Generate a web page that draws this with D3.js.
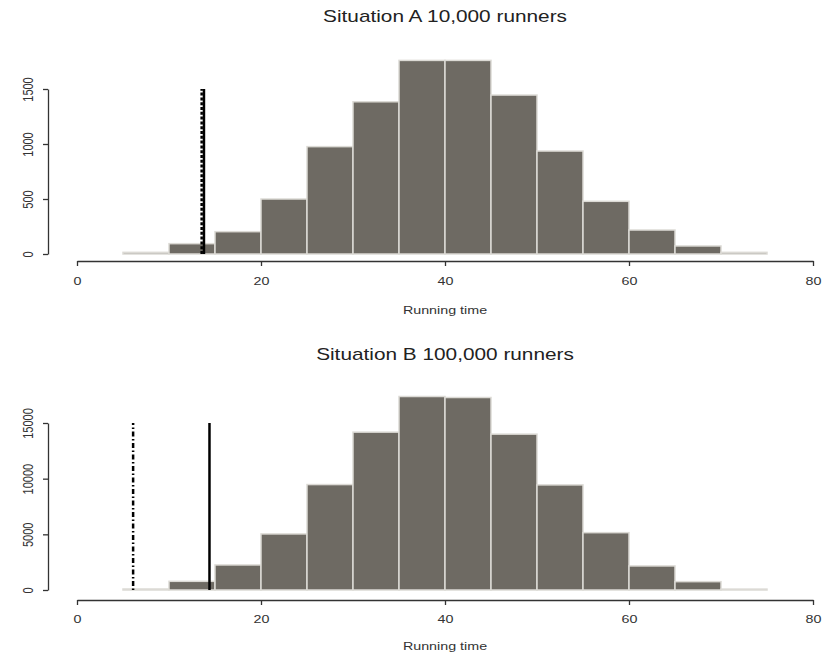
<!DOCTYPE html>
<html><head><meta charset="utf-8">
<script src="https://cdn.jsdelivr.net/npm/d3@7"></script>
<style>
body{margin:0;background:#fff;}
svg{display:block;}
.tick text{font-family:"Liberation Sans",Arial,sans-serif;font-size:11px;fill:#333;}
</style></head>
<body>
<svg id="chart" width="823" height="658"></svg>
<script>
// Histogram bins (running time), width 5
const binStarts = [5,10,15,20,25,30,35,40,45,50,55,60,65,70];
const binWidth = 5;
const countsA = [15,94,203,500,976,1384,1760,1760,1445,936,479,218,73,15];
const countsB = [90,780,2250,5036,9470,14180,17380,17290,14000,9440,5150,2160,750,80];
const xTicks = [0,20,40,60,80];
const yTicksA = [0,500,1000,1500];
const yTicksB = [0,5000,10000,15000];
const titles = ["Situation A 10,000 runners","Situation B 100,000 runners"];
const xLabel = "Running time";
// vertical reference lines
const linesA = [{x:13.55, style:"dashed"},{x:13.8, style:"solid"}];
const linesB = [{x:6.1, style:"dotdash"},{x:14.4, style:"solid"}];
const lineTopA = 1500, lineTopB = 15000;

const SX = 1.3; // horizontal stretch of text seen in the reference
const svg = d3.select("#chart");
const x = d3.scaleLinear().domain([0,80]).range([77,813]);

function panel(cfg){
  const y = d3.scaleLinear().domain([0,cfg.yMax]).range([cfg.y0,cfg.yTop]);
  const g = svg.append("g");
  // title
  g.append("text").attr("transform",`translate(445,${cfg.titleY}) scale(${SX},1)`)
    .attr("text-anchor","middle")
    .style("font-family","'Liberation Sans',Arial,sans-serif")
    .style("font-size","16px").style("fill","#222").text(cfg.title);
  // bars
  g.selectAll("rect.bar").data(binStarts.map((s,i)=>({s,v:cfg.counts[i]})))
    .join("rect").attr("class","bar")
    .attr("x",d=>x(d.s)).attr("width",d=>x(d.s+binWidth)-x(d.s))
    .attr("y",d=>y(d.v)).attr("height",d=>y(0)-y(d.v))
    .attr("fill","#6e6a63").attr("stroke","#dcdad5").attr("stroke-width",1.5);
  // vertical lines
  const dash = {solid:null, dashed:"3,1.8", dotdash:"1.5,2.5,5,2.5"};
  g.selectAll("line.ref").data(cfg.lines).join("line").attr("class","ref")
    .attr("x1",d=>x(d.x)).attr("x2",d=>x(d.x))
    .attr("y1",y(0)).attr("y2",y(cfg.lineTop))
    .attr("stroke","#000").attr("stroke-width",2.5)
    .attr("stroke-dasharray",d=>dash[d.style]);
  // x axis
  const xa = g.append("g").attr("transform",`translate(0,${cfg.xAxisY})`)
    .call(d3.axisBottom(x).tickValues(xTicks).tickSize(5).tickSizeOuter(0).tickFormat(d3.format("d")));
  xa.select(".domain").attr("stroke","#333").attr("stroke-width",1.3);
  xa.selectAll(".tick line").attr("stroke","#333").attr("stroke-width",1.3);
  xa.selectAll(".tick text").attr("y",null).attr("dy","0.35em")
    .attr("transform",`translate(0,${cfg.xLabOff}) scale(${SX},1)`);
  g.append("text").attr("transform",`translate(445,${cfg.xTitleY}) scale(${SX},1)`).attr("dy","0.35em")
    .attr("text-anchor","middle")
    .style("font-family","'Liberation Sans',Arial,sans-serif")
    .style("font-size","11px").style("fill","#333").text(xLabel);
  // y axis
  const ya = g.append("g").attr("transform","translate(48,0)")
    .call(d3.axisLeft(y).tickValues(cfg.yTicks).tickSize(5).tickSizeOuter(0).tickFormat(d3.format("d")));
  ya.select(".domain").attr("stroke","#333").attr("stroke-width",1.3);
  ya.selectAll(".tick line").attr("stroke","#333").attr("stroke-width",1.3);
  ya.selectAll(".tick text").attr("transform",`translate(-20,0) rotate(-90) scale(1,${SX})`)
    .attr("x",0).attr("y",0).attr("dy","0.35em").attr("text-anchor","middle");
}

panel({title:titles[0],titleY:22,counts:countsA,yMax:1500,y0:254,yTop:89,
  lines:linesA,lineTop:lineTopA,xAxisY:261,xLabOff:20,xTitleY:310,yTicks:yTicksA});
panel({title:titles[1],titleY:360,counts:countsB,yMax:15000,y0:590,yTop:423,
  lines:linesB,lineTop:lineTopB,xAxisY:600,xLabOff:19,xTitleY:646,yTicks:yTicksB});
</script>
</body></html>
